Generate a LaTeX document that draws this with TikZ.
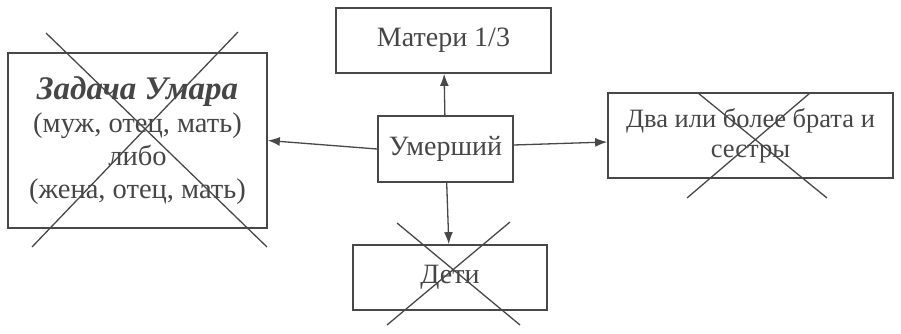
\documentclass[tikz,border=0pt]{standalone}
\usepackage{fontspec}
\setmainfont{Liberation Serif}
\usetikzlibrary{arrows.meta}
\definecolor{ink}{RGB}{72,72,72}
\definecolor{txt}{RGB}{70,70,70}
\tikzset{
	box/.style    = {draw=ink, line width=1.7pt, rectangle, align=center,
		text=txt, font=\fontsize{28}{32}\selectfont},
	cross/.style  = {draw=ink, line width=1.3pt},
	link/.style   = {draw=ink, line width=1.3pt, -{Latex[length=12pt,width=9pt]}}
}
\newcommand{\umartitle}{{\bfseries\itshape\fontsize{33}{34}\selectfont Задача Умара}}

\begin{document}
\begin{tikzpicture}[x=1pt, y=-1pt]
	\useasboundingbox (0,0) rectangle (901,334);
	\draw
	% Drawing the boxes
	node at (445.5,149)[box, minimum width=135pt, minimum height=66pt] (umer) {Умерший}
	node at (443.5,40.5)[box, minimum width=215pt, minimum height=65pt] (mat) {Матери 1/3}
	node at (137.5,140.5)[box, minimum width=259pt, minimum height=175pt,
		font=\fontsize{28.5}{33}\selectfont] (umar)
		{\umartitle\\(муж, отец, мать)\\либо\\(жена, отец, мать)}
	node at (750.5,135.5)[box, minimum width=285pt, minimum height=85pt,
		font=\fontsize{26.5}{30}\selectfont] (brat)
		{Два или более брата и\\сестры}
	node at (450,277.5)[box, minimum width=194pt, minimum height=65pt] (deti) {Дети};
	
	\draw[link](umer) -- (mat);
	\draw[link](umer.west) -- (umar.east);
	\draw[link]([yshift=4pt]umer.east) -- ([yshift=-6.5pt]brat.west);
	\draw[link](umer) -- (deti);
	
	% crossed out boxes
	\draw[cross] (46,33) -- (267,247) (238,32) -- (32,247);
	\draw[cross] (698,93) -- (827,198) (810,93) -- (687,198);
	\draw[cross] (397,223) -- (520,325) (510,222) -- (387,325);
	
	\end{tikzpicture}
\end{document}
